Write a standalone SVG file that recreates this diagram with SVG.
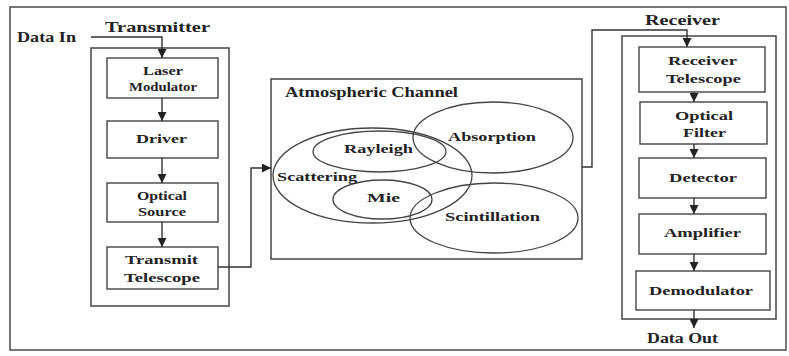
<svg xmlns="http://www.w3.org/2000/svg" width="789" height="356" viewBox="0 0 789 356">
<defs>
<marker id="ah" viewBox="0 0 10 10" refX="10" refY="5" markerWidth="9" markerHeight="9" markerUnits="userSpaceOnUse" orient="auto">
<path d="M0,0 L10,5 L0,10 z" fill="#222"/>
</marker>
<style>
.box{fill:#fff;stroke:#444;stroke-width:1.4}
.grp{fill:none;stroke:#444;stroke-width:1.5}
.ell{fill:none;stroke:#444;stroke-width:1.3}
.t{font-family:"Liberation Serif","Times New Roman",serif;font-weight:bold;font-size:13px;fill:#222}
.h{font-family:"Liberation Serif","Times New Roman",serif;font-weight:bold;font-size:14px;fill:#222}
.c{fill:none;stroke:#333;stroke-width:1.4;marker-end:url(#ah)}
</style>
</defs>
<rect width="789" height="356" fill="#fff"/>
<rect x="10" y="7" width="776" height="343" fill="none" stroke="#555" stroke-width="1.6"/>

<g id="transmitter">
<rect class="grp" x="91" y="48" width="138" height="258"/>
<text class="h" x="105" y="32" textLength="105" lengthAdjust="spacingAndGlyphs">Transmitter</text>
</g>
<text class="h" x="17" y="42" textLength="59" lengthAdjust="spacingAndGlyphs">Data In</text>

<g id="laser-modulator">
<rect class="box" x="107" y="58" width="111" height="40"/>
<text class="t" x="143" y="75" textLength="40" lengthAdjust="spacingAndGlyphs" font-size="12">Laser</text>
<text class="t" x="129" y="91" textLength="68" lengthAdjust="spacingAndGlyphs" font-size="12">Modulator</text>
</g>
<g id="driver">
<rect class="box" x="107" y="121" width="111" height="37"/>
<text class="t" x="136" y="143" textLength="51" lengthAdjust="spacingAndGlyphs">Driver</text>
</g>
<g id="optical-source">
<rect class="box" x="107" y="183" width="111" height="39"/>
<text class="t" x="137" y="200" textLength="50" lengthAdjust="spacingAndGlyphs">Optical</text>
<text class="t" x="138" y="216" textLength="48" lengthAdjust="spacingAndGlyphs">Source</text>
</g>
<g id="transmit-telescope">
<rect class="box" x="107" y="247" width="111" height="42"/>
<text class="t" x="125" y="264" textLength="73" lengthAdjust="spacingAndGlyphs">Transmit</text>
<text class="t" x="124" y="282" textLength="76" lengthAdjust="spacingAndGlyphs">Telescope</text>
</g>

<g id="atmospheric-channel">
<rect class="grp" x="271" y="79" width="311" height="180"/>
<text class="h" x="285" y="97" textLength="173" lengthAdjust="spacingAndGlyphs">Atmospheric Channel</text>
<ellipse class="ell" cx="372.5" cy="175.5" rx="99.5" ry="47.5"/>
<ellipse class="ell" cx="379.5" cy="151.5" rx="66.5" ry="20.5"/>
<ellipse class="ell" cx="493" cy="137.5" rx="80" ry="35.5"/>
<ellipse class="ell" cx="382.5" cy="199.5" rx="49.5" ry="19.5"/>
<ellipse class="ell" cx="494" cy="218" rx="84" ry="35"/>
<text class="t" x="344" y="153" textLength="69" lengthAdjust="spacingAndGlyphs">Rayleigh</text>
<text class="t" x="448" y="141" textLength="88" lengthAdjust="spacingAndGlyphs">Absorption</text>
<text class="t" x="277" y="181" textLength="80" lengthAdjust="spacingAndGlyphs">Scattering</text>
<text class="t" x="367" y="202" textLength="33" lengthAdjust="spacingAndGlyphs">Mie</text>
<text class="t" x="445" y="221" textLength="95" lengthAdjust="spacingAndGlyphs">Scintillation</text>
</g>

<g id="receiver">
<rect class="grp" x="622" y="36" width="154" height="283"/>
<text class="h" x="645" y="25" textLength="75" lengthAdjust="spacingAndGlyphs">Receiver</text>
</g>
<g id="receiver-telescope">
<rect class="box" x="639" y="47" width="126" height="45"/>
<text class="t" x="668" y="65" textLength="69" lengthAdjust="spacingAndGlyphs">Receiver</text>
<text class="t" x="666" y="83" textLength="75" lengthAdjust="spacingAndGlyphs">Telescope</text>
</g>
<g id="optical-filter">
<rect class="box" x="640" y="102" width="127" height="42"/>
<text class="t" x="675" y="120" textLength="58" lengthAdjust="spacingAndGlyphs">Optical</text>
<text class="t" x="683" y="137" textLength="43" lengthAdjust="spacingAndGlyphs">Filter</text>
</g>
<g id="detector">
<rect class="box" x="639" y="158" width="127" height="40"/>
<text class="t" x="669" y="182" textLength="68" lengthAdjust="spacingAndGlyphs">Detector</text>
</g>
<g id="amplifier">
<rect class="box" x="639" y="214" width="127" height="40"/>
<text class="t" x="664" y="237" textLength="77" lengthAdjust="spacingAndGlyphs">Amplifier</text>
</g>
<g id="demodulator">
<rect class="box" x="636" y="271" width="134" height="39"/>
<text class="t" x="649" y="295" textLength="104" lengthAdjust="spacingAndGlyphs">Demodulator</text>
</g>
<text class="h" x="647" y="343" textLength="71" lengthAdjust="spacingAndGlyphs">Data Out</text>

<g id="connectors">
<path class="c" d="M91,37 H162 V58"/>
<path class="c" d="M162,98 V121"/>
<path class="c" d="M162,158 V183"/>
<path class="c" d="M162,222 V247"/>
<path class="c" d="M218,267 H251 V168 H271"/>
<path class="c" d="M582,167 H592 V30 H687 V47"/>
<path class="c" d="M694,92 V102"/>
<path class="c" d="M694,144 V158"/>
<path class="c" d="M694,198 V214"/>
<path class="c" d="M694,254 V271"/>
<path class="c" d="M694,310 V328"/>
</g>
</svg>
